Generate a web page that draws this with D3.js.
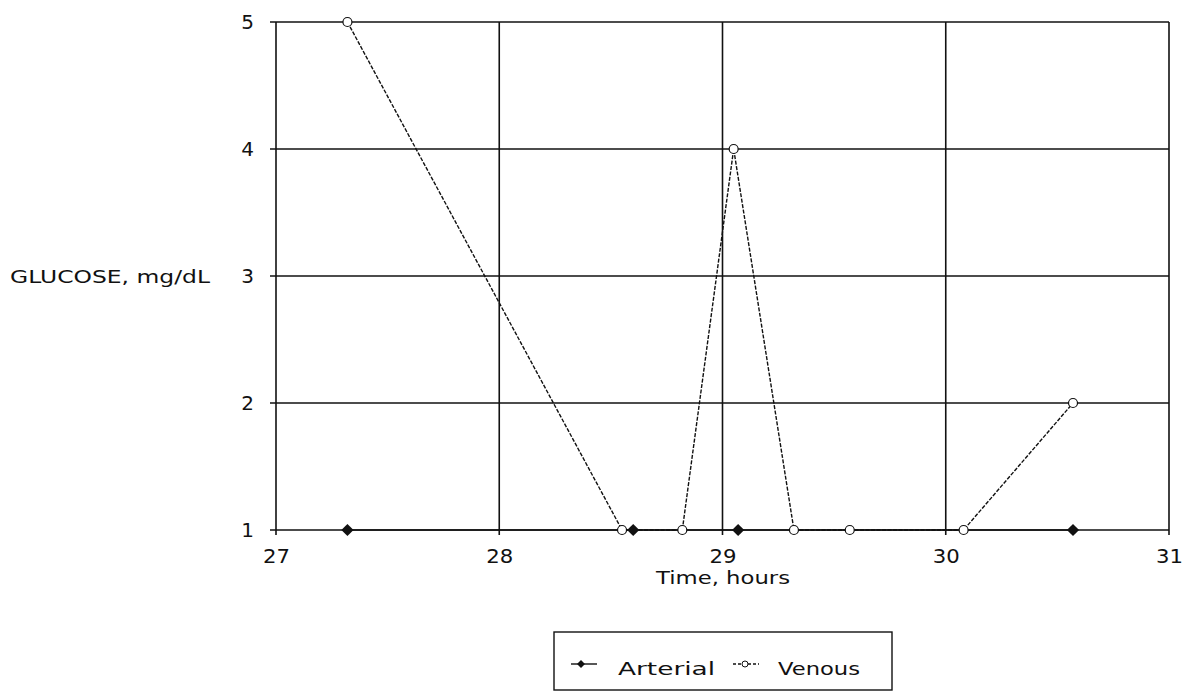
<!DOCTYPE html>
<html>
<head>
<meta charset="utf-8">
<script src="https://cdn.jsdelivr.net/npm/d3@7"></script>
<style>
  html, body { margin: 0; padding: 0; background: #fff; }
  svg text { font-family: "DejaVu Sans", sans-serif; fill: #111; }
</style>
</head>
<body>
<svg id="chart" width="1192" height="697"></svg>
<script>
// Glucose readings over time (hours)
const arterialTime = [27.32, 28.60, 29.07, 30.57];
const arterialGlucose = [1, 1, 1, 1];
const venousTime = [27.32, 28.55, 28.82, 29.05, 29.32, 29.57, 30.08, 30.57];
const venousGlucose = [5, 1, 1, 4, 1, 1, 1, 2];
const xTicks = [27, 28, 29, 30, 31];
const yTicks = [1, 2, 3, 4, 5];
const seriesNames = ["Arterial", "Venous"];

const svg = d3.select("#chart");
const plotLeft = 276, plotRight = 1169, plotTop = 22, plotBottom = 530;

const x = d3.scaleLinear().domain([27, 31]).range([plotLeft, plotRight]);
const y = d3.scaleLinear().domain([1, 5]).range([plotBottom, plotTop]);

const ink = "#111";

// Grid: horizontal lines at each glucose level, vertical at each hour
svg.append("g").selectAll("line").data(yTicks).join("line")
  .attr("x1", plotLeft - 6).attr("x2", plotRight)
  .attr("y1", d => y(d)).attr("y2", d => y(d))
  .attr("stroke", ink).attr("stroke-width", 1.6);
svg.append("g").selectAll("line").data(xTicks).join("line")
  .attr("x1", d => x(d)).attr("x2", d => x(d))
  .attr("y1", plotTop).attr("y2", plotBottom + 5)
  .attr("stroke", ink).attr("stroke-width", 1.6);

// Axes (labels only; the grid carries the lines)
const xAxis = svg.append("g").attr("transform", `translate(0,${plotBottom})`)
  .call(d3.axisBottom(x).tickValues(xTicks).tickSize(0).tickPadding(19).tickFormat(d3.format("d")));
xAxis.select(".domain").remove();
xAxis.selectAll("text").attr("font-size", 20).attr("fill", ink)
  .attr("textLength", 27).attr("lengthAdjust", "spacingAndGlyphs");

const yAxis = svg.append("g").attr("transform", `translate(${plotLeft},0)`)
  .call(d3.axisLeft(y).tickValues(yTicks).tickSize(0).tickPadding(22).tickFormat(d3.format("d")));
yAxis.select(".domain").remove();
yAxis.selectAll("text").attr("font-size", 20).attr("fill", ink);

svg.append("text").attr("x", 10).attr("y", y(3) + 7)
  .attr("font-size", 18).attr("textLength", 200).attr("lengthAdjust", "spacingAndGlyphs")
  .text("GLUCOSE, mg/dL");
svg.append("text").attr("x", 656).attr("y", 584)
  .attr("font-size", 18).attr("textLength", 134).attr("lengthAdjust", "spacingAndGlyphs")
  .text("Time, hours");

// Series lines
const line = d3.line().x(d => x(d[0])).y(d => y(d[1]));
const arterial = d3.zip(arterialTime, arterialGlucose);
const venous = d3.zip(venousTime, venousGlucose);

svg.append("path").datum(arterial).attr("d", line)
  .attr("fill", "none").attr("stroke", ink).attr("stroke-width", 1.6);
svg.append("path").datum(venous).attr("d", line)
  .attr("fill", "none").attr("stroke", ink).attr("stroke-width", 1.4)
  .attr("stroke-dasharray", "4,1.5");

// Markers
const diamond = d3.symbol().type(d3.symbolDiamond2).size(95);
svg.append("g").selectAll("path").data(arterial).join("path")
  .attr("transform", d => `translate(${x(d[0])},${y(d[1])})`)
  .attr("d", diamond).attr("fill", ink);
svg.append("g").selectAll("circle").data(venous).join("circle")
  .attr("cx", d => x(d[0])).attr("cy", d => y(d[1])).attr("r", 4.5)
  .attr("fill", "#fff").attr("stroke", ink).attr("stroke-width", 1.2);

// Legend
const lg = svg.append("g");
lg.append("rect").attr("x", 554).attr("y", 632).attr("width", 338).attr("height", 58)
  .attr("fill", "none").attr("stroke", ink).attr("stroke-width", 1.4);
const items = [
  { name: seriesNames[0], sx: 571, tx: 618, w: 97 },
  { name: seriesNames[1], sx: 733, tx: 778, w: 82 }
];
items.forEach((it, i) => {
  lg.append("line").attr("x1", it.sx).attr("x2", it.sx + 26)
    .attr("y1", 664).attr("y2", 664).attr("stroke", ink).attr("stroke-width", 1.4)
    .attr("stroke-dasharray", i === 1 ? "3,2" : null);
  if (i === 0) {
    lg.append("path").attr("transform", `translate(${it.sx + 10},664)`)
      .attr("d", d3.symbol().type(d3.symbolDiamond2).size(40)).attr("fill", ink);
  } else {
    lg.append("circle").attr("cx", it.sx + 12).attr("cy", 664).attr("r", 3)
      .attr("fill", "#fff").attr("stroke", ink).attr("stroke-width", 1);
  }
  lg.append("text").attr("x", it.tx).attr("y", 675).attr("font-size", 18)
    .attr("textLength", it.w).attr("lengthAdjust", "spacingAndGlyphs").text(it.name);
});
</script>
</body>
</html>
